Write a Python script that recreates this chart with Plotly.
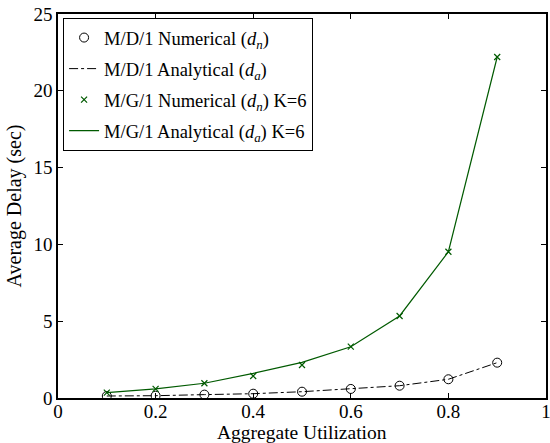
import plotly.graph_objects as go

utilization = [0.1, 0.2, 0.3, 0.4, 0.5, 0.6, 0.7, 0.8, 0.9]
md1_numerical = [0.13, 0.15, 0.22, 0.28, 0.41, 0.59, 0.80, 1.22, 2.30]
md1_analytical = [0.13, 0.15, 0.22, 0.28, 0.41, 0.59, 0.80, 1.22, 2.30]
mg1_numerical = [0.35, 0.59, 0.96, 1.43, 2.15, 3.34, 5.34, 9.52, 22.2]
mg1_analytical = [0.35, 0.59, 0.96, 1.60, 2.32, 3.34, 5.34, 9.52, 22.2]
x_ticks = [0, 0.2, 0.4, 0.6, 0.8, 1]
y_ticks = [0, 5, 10, 15, 20, 25]

green = "#005a00"
font = "Liberation Serif, Times New Roman, serif"

fig = go.Figure()
fig.add_trace(go.Scatter(x=utilization, y=md1_numerical, mode="markers", legendgroup="a",
                         name="M/D/1 Numerical (<i>d</i><sub><i>n</i></sub>)",
                         marker=dict(symbol="circle-open", size=9, color="black", line=dict(width=1))))
fig.add_trace(go.Scatter(x=utilization, y=md1_analytical, mode="lines", legendgroup="b",
                         name="M/D/1 Analytical (<i>d</i><sub><i>a</i></sub>)",
                         line=dict(color="black", width=1, dash="dashdot")))
fig.add_trace(go.Scatter(x=utilization, y=mg1_numerical, mode="markers", legendgroup="c",
                         name="M/G/1 Numerical (<i>d</i><sub><i>n</i></sub>) K=6",
                         marker=dict(symbol="x-thin-open", size=6, color=green, line=dict(width=1.2, color=green))))
fig.add_trace(go.Scatter(x=utilization, y=mg1_analytical, mode="lines", legendgroup="d",
                         name="M/G/1 Analytical (<i>d</i><sub><i>a</i></sub>) K=6",
                         line=dict(color=green, width=1.2)))

axis_common = dict(showgrid=False, zeroline=False, showline=True, linecolor="black", linewidth=1.5,
                   mirror="ticks", ticks="inside", ticklen=5, tickcolor="black", tickwidth=1,
                   tickfont=dict(family=font, size=19, color="black"), automargin=False,
                   ticklabeloverflow="allow")
fig.update_layout(
    width=550, height=443,
    margin=dict(l=58, r=4, t=14, b=45),
    paper_bgcolor="white", plot_bgcolor="white",
    font=dict(family=font, color="black", size=17),
    xaxis=dict(range=[0, 1], tickvals=x_ticks, ticktext=[str(v) for v in x_ticks],
               ticklabelstandoff=-5, **axis_common),
    yaxis=dict(range=[0, 25], tickvals=y_ticks,
               title=dict(text="Average Delay (sec)", font=dict(family=font, size=20), standoff=6),
               **axis_common),
    legend=dict(x=0.01, y=0.99, xanchor="left", yanchor="top", bgcolor="white",
                bordercolor="black", borderwidth=1.2, font=dict(family=font, size=18.5, color="black"),
                tracegroupgap=4, itemwidth=30),
    showlegend=True,
)
fig.add_annotation(text="Aggregate Utilization", xref="paper", yref="paper", x=0.5, y=-46 / 384,
                   xanchor="center", yanchor="bottom", showarrow=False, borderpad=0,
                   font=dict(family=font, size=19.5, color="black"))
fig.write_html("out.html")
